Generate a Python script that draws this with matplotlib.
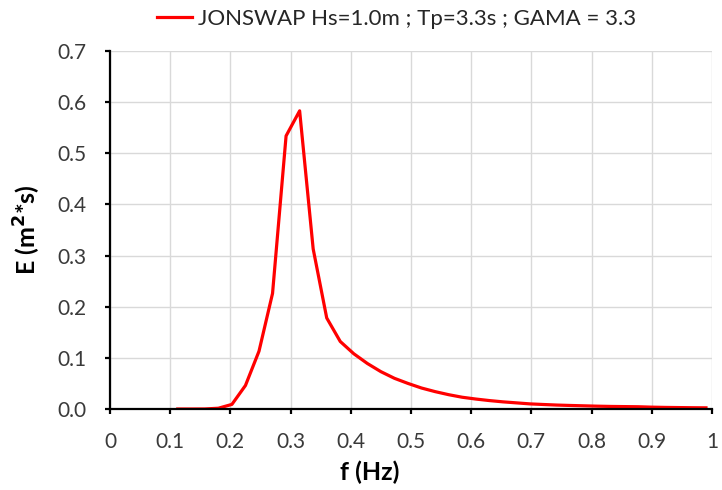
import matplotlib
matplotlib.use("Agg")
import matplotlib.pyplot as plt
import numpy as np

freq = [0.1125, 0.135, 0.1575, 0.18, 0.2025, 0.225, 0.2475, 0.27, 0.2925, 0.315,
        0.3375, 0.36, 0.3825, 0.405, 0.4275, 0.45, 0.4725, 0.495, 0.5175, 0.54,
        0.5625, 0.585, 0.6075, 0.63, 0.6525, 0.675, 0.6975, 0.72, 0.7425, 0.765,
        0.7875, 0.81, 0.8325, 0.855, 0.8775, 0.90, 0.9225, 0.945, 0.9675, 0.99]
energy = [0.0, 0.0, 0.0001, 0.0015, 0.009, 0.046, 0.113, 0.226, 0.534, 0.583,
          0.313, 0.178, 0.132, 0.108, 0.089, 0.073, 0.060, 0.050, 0.041, 0.034,
          0.028, 0.023, 0.0195, 0.0165, 0.014, 0.012, 0.010, 0.0088, 0.0077, 0.0069,
          0.0062, 0.0055, 0.0050, 0.0047, 0.0044, 0.0036, 0.0031, 0.0028, 0.0025, 0.0023]
legend_label = "JONSWAP Hs=1.0m ; Tp=3.3s ; GAMA = 3.3"
x_ticks = [0, 0.1, 0.2, 0.3, 0.4, 0.5, 0.6, 0.7, 0.8, 0.9, 1.0]
x_tick_labels = ["0", "0.1", "0.2", "0.3", "0.4", "0.5", "0.6", "0.7", "0.8", "0.9", "1"]
y_ticks = [0.0, 0.1, 0.2, 0.3, 0.4, 0.5, 0.6, 0.7]

plt.rcParams['font.family'] = ['Lato', 'DejaVu Sans']

fig = plt.figure(figsize=(7.22, 4.90), dpi=100)
ax = fig.add_axes([110/722, 1 - 409/490, (712-110)/722, (409-51)/490])

ax.plot(freq, energy, color='#FF0000', lw=2.3, label=legend_label)

ax.set_xlim(0, 1)
ax.set_ylim(0, 0.7)
ax.set_xticks(x_ticks)
ax.set_xticklabels(x_tick_labels)
ax.set_yticks(y_ticks)
ax.set_yticklabels([f"{v:.1f}" for v in y_ticks])

ax.grid(True, color='#d9d9d9', lw=1.0)
ax.set_axisbelow(True)
for s in ['top', 'right']:
    ax.spines[s].set_visible(False)
for s in ['left', 'bottom']:
    ax.spines[s].set_color('black')
    ax.spines[s].set_linewidth(1.6)

ax.tick_params(axis='both', direction='out', length=3.6, width=1.6, color='black',
               labelsize=15, labelcolor='#3a3a3a', pad=13)

ax.set_xlabel("f (Hz)", fontsize=18, fontweight='bold', color='black', va='center')
ax.xaxis.set_label_coords((370 - 110) / 602, (409 - 472) / 358)
ax.set_ylabel("E (m$^\\mathbf{2}$*s)", fontsize=18, fontweight='bold', color='black', va='center')
ax.yaxis.set_label_coords((27 - 110) / 602, 0.5)

leg = ax.legend(loc='center', bbox_to_anchor=((396.5 - 110) / 602, (409 - 19) / 358),
                frameon=False, fontsize=16, handlelength=1.6, handletextpad=0.25,
                borderaxespad=0, borderpad=0)
for t in leg.get_texts():
    t.set_color('#262626')

fig.savefig("out.png", dpi=100)
